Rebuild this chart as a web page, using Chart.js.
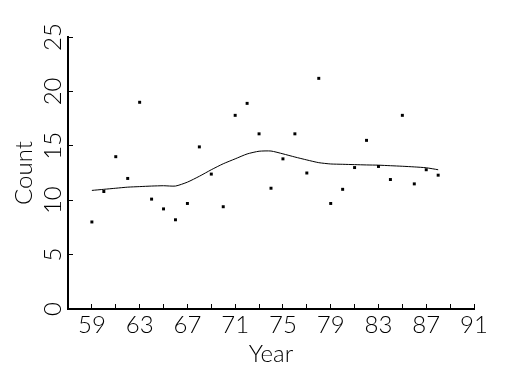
<!DOCTYPE html>
<html>
<head>
<meta charset="utf-8">
<script src="https://cdn.jsdelivr.net/npm/chart.js@4/dist/chart.umd.min.js"></script>
<style>
  html, body { margin: 0; padding: 0; background: #fff; }
  #c { display: block; }
</style>
</head>
<body>
<canvas id="c" width="525" height="375"></canvas>
<script>
const years = [59, 60, 61, 62, 63, 64, 65, 66, 67, 68, 69, 70, 71, 72, 73, 74, 75, 76, 77, 78, 79, 80, 81, 82, 83, 84, 85, 86, 87, 88];
const counts = [8.0, 10.8, 14.0, 12.0, 19.0, 10.1, 9.2, 8.2, 9.7, 14.9, 12.4, 9.4, 17.8, 18.9, 16.1, 11.1, 13.8, 16.1, 12.5, 21.2, 9.7, 11.0, 13.0, 15.5, 13.1, 11.9, 17.8, 11.5, 12.8, 12.3];
const smooth = [10.9, 11.0, 11.1, 11.2, 11.25, 11.3, 11.33, 11.3, 11.66, 12.2, 12.8, 13.35, 13.8, 14.25, 14.5, 14.52, 14.26, 13.97, 13.7, 13.45, 13.33, 13.3, 13.27, 13.24, 13.22, 13.17, 13.12, 13.06, 12.98, 12.8];
const xLabelYears = [59, 63, 67, 71, 75, 79, 83, 87, 91];
const yTicks = [0, 5, 10, 15, 20, 25];

const FONT = { family: "Lato, 'Open Sans', sans-serif", size: 24, weight: 300 };

new Chart(document.getElementById('c'), {
  type: 'scatter',
  data: {
    datasets: [
      {
        type: 'scatter',
        data: years.map((y, i) => ({ x: y, y: counts[i] })),
        pointStyle: 'rect',
        pointRadius: 2.1,
        pointBorderWidth: 0,
        backgroundColor: '#000',
        borderColor: '#000'
      },
      {
        type: 'line',
        data: years.map((y, i) => ({ x: y, y: smooth[i] })),
        borderColor: '#000',
        borderWidth: 1,
        pointRadius: 0,
        fill: false,
        tension: 0.2
      }
    ]
  },
  options: {
    responsive: false,
    animation: false,
    devicePixelRatio: 1,
    layout: { padding: { left: 0, top: 37, right: 51, bottom: 0 } },
    plugins: { legend: { display: false }, tooltip: { enabled: false } },
    scales: {
      x: {
        type: 'linear',
        min: 57,
        max: 91,
        border: { display: true, color: '#000', width: 2 },
        grid: { display: true, drawOnChartArea: false, drawTicks: true, tickLength: -5, color: '#000', lineWidth: 1 },
        ticks: {
          stepSize: 2,
          autoSkip: false,
          maxRotation: 0,
          minRotation: 0,
          padding: 7,
          color: '#000',
          font: FONT,
          callback: (v) => xLabelYears.includes(v) ? String(v) : ''
        },
        title: { display: true, text: 'Year', color: '#000', font: FONT, padding: { top: 0, bottom: 6 } },
        afterFit: (s) => { s.height = 66; }
      },
      y: {
        type: 'linear',
        min: 0,
        max: 25,
        border: { display: true, color: '#000', width: 2 },
        grid: { display: true, drawOnChartArea: false, drawTicks: true, tickLength: -5, color: '#000', lineWidth: 1 },
        afterBuildTicks: (s) => { s.ticks = yTicks.map(v => ({ value: v })); },
        ticks: {
          minRotation: 90,
          maxRotation: 90,
          crossAlign: 'center',
          padding: 6,
          color: '#000',
          font: FONT
        },
        title: { display: true, text: 'Count', color: '#000', font: FONT, padding: { top: 10, bottom: 0 } },
        afterFit: (s) => { s.width = 68; }
      }
    }
  }
});
</script>
</body>
</html>
